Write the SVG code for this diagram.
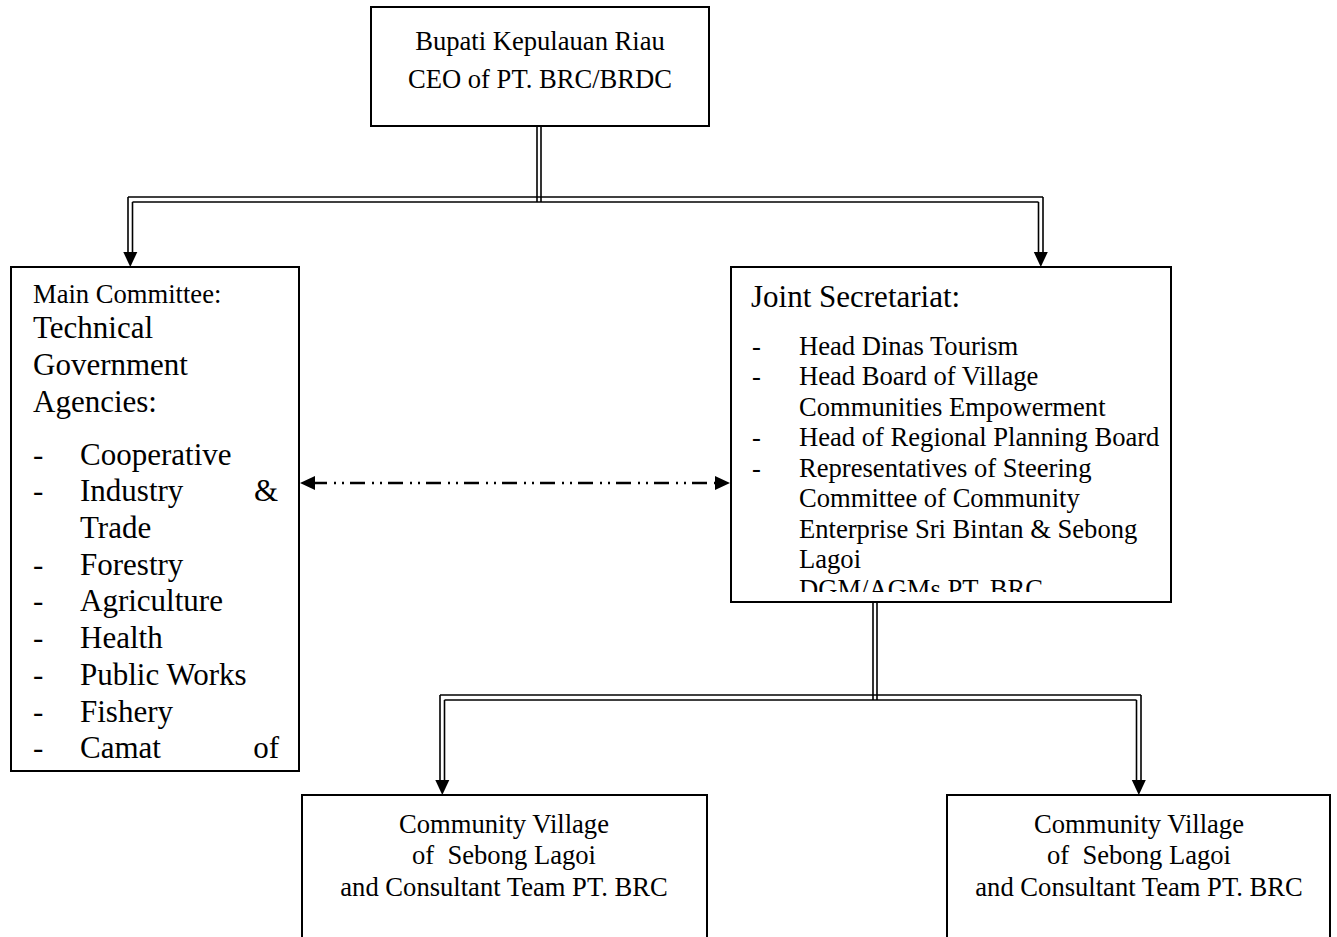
<svg xmlns="http://www.w3.org/2000/svg" width="1337" height="937" viewBox="0 0 1337 937">
<style>
  .box { fill: #fff; stroke: #000; stroke-width: 2; }
  .t { font-family: "Liberation Serif", "Times New Roman", serif; fill: #000; }
  .s12 { font-size: 26.6px; }
  .s14 { font-size: 31px; }
  .c { text-anchor: middle; }
  .e { text-anchor: end; }
  .pre { white-space: pre; }
  .dl { stroke: #000; stroke-width: 1.6; fill: none; }
  .ah { fill: #000; stroke: none; }
  .dash { stroke: #000; stroke-width: 2.4; fill: none; stroke-dasharray: 15 7 2 6 2 6; }
</style>
<defs>
  <clipPath id="jsClip"><rect x="731" y="267" width="440" height="325"/></clipPath>
</defs>
<rect width="1337" height="937" fill="#fff"/>

<g id="connectors">
  <!-- top double connector -->
  <line class="dl" x1="537" y1="126" x2="537" y2="202"/>
  <line class="dl" x1="541" y1="126" x2="541" y2="202"/>
  <line class="dl" x1="128" y1="197" x2="1043" y2="197"/>
  <line class="dl" x1="132.5" y1="202" x2="1038.5" y2="202"/>
  <line class="dl" x1="128" y1="197" x2="128" y2="254"/>
  <line class="dl" x1="132.5" y1="202" x2="132.5" y2="254"/>
  <line class="dl" x1="1043" y1="197" x2="1043" y2="254"/>
  <line class="dl" x1="1038.5" y1="202" x2="1038.5" y2="254"/>
  <polygon class="ah" points="123.3,252 137.3,252 130.3,267"/>
  <polygon class="ah" points="1033.8,252 1047.8,252 1040.8,267"/>

  <!-- bidirectional dash-dot arrow -->
  <line class="dash" x1="314" y1="483" x2="716" y2="483" stroke-dashoffset="2"/>
  <polygon class="ah" points="300,483 315,476 315,490"/>
  <polygon class="ah" points="730,483 715,476 715,490"/>

  <!-- bottom double connector -->
  <line class="dl" x1="873" y1="602" x2="873" y2="700"/>
  <line class="dl" x1="877" y1="602" x2="877" y2="700"/>
  <line class="dl" x1="440" y1="695" x2="1141" y2="695"/>
  <line class="dl" x1="444.5" y1="700" x2="1136.5" y2="700"/>
  <line class="dl" x1="440" y1="695" x2="440" y2="782"/>
  <line class="dl" x1="444.5" y1="700" x2="444.5" y2="782"/>
  <line class="dl" x1="1141" y1="695" x2="1141" y2="782"/>
  <line class="dl" x1="1136.5" y1="700" x2="1136.5" y2="782"/>
  <polygon class="ah" points="435.3,780 449.3,780 442.3,795"/>
  <polygon class="ah" points="1131.8,780 1145.8,780 1138.8,795"/>
</g>

<g id="node-bupati">
  <rect class="box" x="371" y="7" width="338" height="119"/>
  <text class="t s12 c" x="540" y="50">Bupati Kepulauan Riau</text>
  <text class="t s12 c" x="540" y="88">CEO of PT. BRC/BRDC</text>
</g>

<g id="node-main-committee">
  <rect class="box" x="11" y="267" width="288" height="504"/>
  <text class="t s12" x="33" y="303">Main Committee:</text>
  <text class="t s14" x="33" y="338">Technical</text>
  <text class="t s14" x="33" y="375">Government</text>
  <text class="t s14" x="33" y="412">Agencies:</text>
  <g class="t s14">
    <text x="33" y="465">-</text><text x="80" y="465">Cooperative</text>
    <text x="33" y="501">-</text><text x="80" y="501">Industry</text><text class="e" x="278" y="501">&amp;</text>
    <text x="80" y="538">Trade</text>
    <text x="33" y="575">-</text><text x="80" y="575">Forestry</text>
    <text x="33" y="611">-</text><text x="80" y="611">Agriculture</text>
    <text x="33" y="648">-</text><text x="80" y="648">Health</text>
    <text x="33" y="685">-</text><text x="80" y="685">Public Works</text>
    <text x="33" y="722">-</text><text x="80" y="722">Fishery</text>
    <text x="33" y="758">-</text><text x="80" y="758">Camat</text><text class="e" x="279" y="758">of</text>
  </g>
</g>

<g id="node-joint-secretariat">
  <rect class="box" x="731" y="267" width="440" height="335"/>
  <text class="t s14" x="751" y="307">Joint Secretariat:</text>
  <g class="t s12" clip-path="url(#jsClip)">
    <text x="752" y="355">-</text><text x="799" y="355">Head Dinas Tourism</text>
    <text x="752" y="385">-</text><text x="799" y="385">Head Board of Village</text>
    <text x="799" y="416">Communities Empowerment</text>
    <text x="752" y="446">-</text><text x="799" y="446">Head of Regional Planning Board</text>
    <text x="752" y="477">-</text><text x="799" y="477">Representatives of Steering</text>
    <text x="799" y="507">Committee of Community</text>
    <text x="799" y="538">Enterprise Sri Bintan &amp; Sebong</text>
    <text x="799" y="568">Lagoi</text>
    <text x="799" y="598">DGM/AGMs PT. BRC</text>
  </g>
</g>

<g id="node-village-left">
  <rect class="box" x="302" y="795" width="405" height="160"/>
  <text class="t s12 c" x="504" y="833">Community Village</text>
  <text class="t s12 c pre" x="504" y="864" xml:space="preserve">of  Sebong Lagoi</text>
  <text class="t s12 c" x="504" y="896">and Consultant Team PT. BRC</text>
</g>

<g id="node-village-right">
  <rect class="box" x="947" y="795" width="383" height="160"/>
  <text class="t s12 c" x="1139" y="833">Community Village</text>
  <text class="t s12 c pre" x="1139" y="864" xml:space="preserve">of  Sebong Lagoi</text>
  <text class="t s12 c" x="1139" y="896">and Consultant Team PT. BRC</text>
</g>
</svg>
